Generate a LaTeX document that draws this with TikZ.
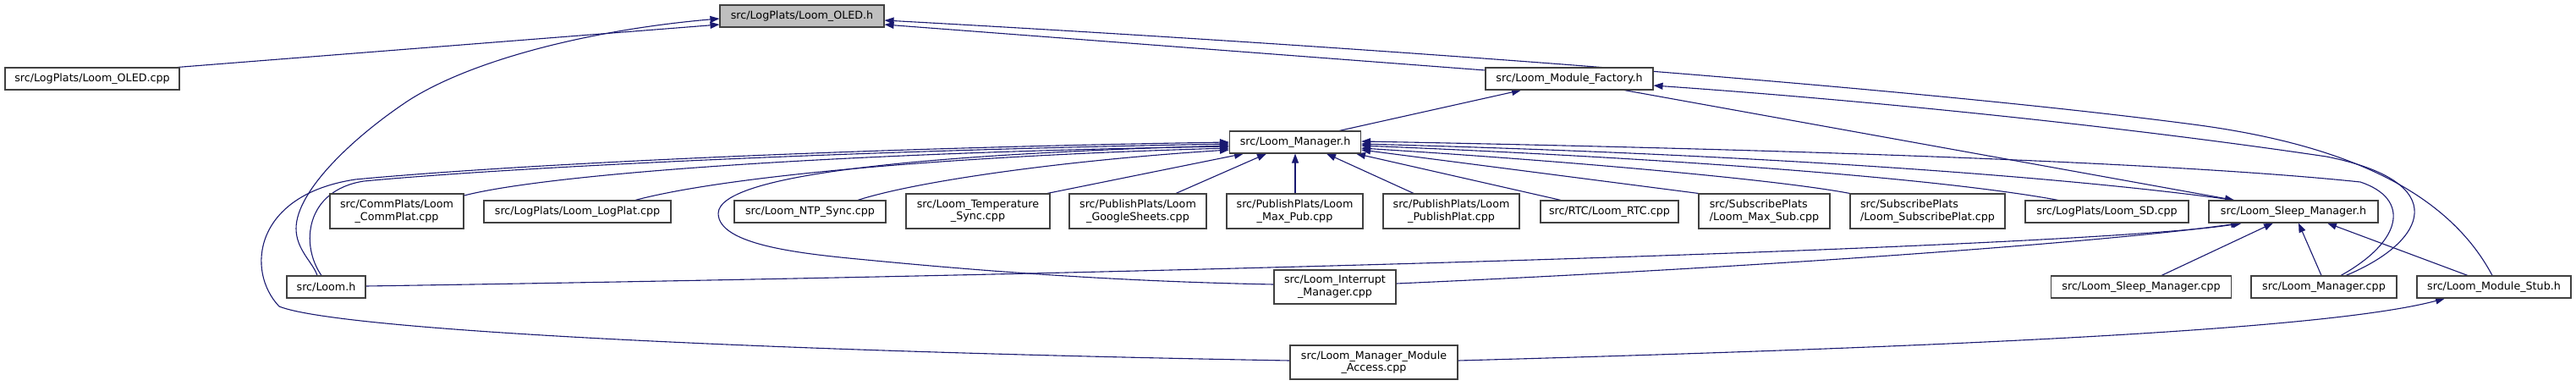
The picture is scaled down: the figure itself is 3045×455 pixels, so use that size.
\documentclass[tikz,border=0pt]{standalone}
\usepackage{fontspec}
\setmainfont{DejaVu Sans}
\usetikzlibrary{arrows.meta,backgrounds}
\definecolor{edgec}{HTML}{191970}
\definecolor{boxc}{HTML}{404040}
\definecolor{rootfill}{HTML}{BFBFBF}
\begin{document}
\begin{tikzpicture}[x=1pt,y=-1pt,
  box/.style={draw=boxc, line width=1.1pt, fill=white, rectangle, inner sep=0pt,
    font=\fontsize{12.7}{14.5}\selectfont, align=center, minimum height=26pt},
  tall/.style={minimum height=41pt},
  edge/.style={draw=edgec, line width=1.1pt},
  inc/.style={edge, {Triangle[length=11pt,width=8pt]}-}]
\useasboundingbox (0,0) rectangle (3045,455);
% nodes
\node[box, fill=rootfill, minimum width=194pt] (oledh) at (948,19) {src/LogPlats/Loom\_OLED.h};
\node[box, minimum width=206pt] (oledcpp) at (109,93) {src/LogPlats/Loom\_OLED.cpp};
\node[box, minimum width=198pt] (factory) at (1855,93) {src/Loom\_Module\_Factory.h};
\node[box, minimum width=155pt] (mgrh) at (1531,168) {src/Loom\_Manager.h};
\node[box, tall, minimum width=158pt] (commplat) at (469,249.5) {src/CommPlats/Loom\\\_CommPlat.cpp};
\node[box, minimum width=221pt] (logplat) at (682.5,250) {src/LogPlats/Loom\_LogPlat.cpp};
\node[box, minimum width=179pt] (ntp) at (957.5,250) {src/Loom\_NTP\_Sync.cpp};
\node[box, tall, minimum width=170pt] (temp) at (1156,249.5) {src/Loom\_Temperature\\\_Sync.cpp};
\node[box, tall, minimum width=162pt] (gsheets) at (1345,249.5) {src/PublishPlats/Loom\\\_GoogleSheets.cpp};
\node[box, tall, minimum width=161pt] (maxpub) at (1530.5,249.5) {src/PublishPlats/Loom\\\_Max\_Pub.cpp};
\node[box, tall, minimum width=161pt] (pubplat) at (1715.5,249.5) {src/PublishPlats/Loom\\\_PublishPlat.cpp};
\node[box, minimum width=163pt] (rtc) at (1902.5,250) {src/RTC/Loom\_RTC.cpp};
\node[box, tall, align=left, minimum width=155pt] (maxsub) at (2085.5,249.5) {src/SubscribePlats\\/Loom\_Max\_Sub.cpp};
\node[box, tall, align=left, minimum width=183pt] (subplat) at (2278.5,249.5) {src/SubscribePlats\\/Loom\_SubscribePlat.cpp};
\node[box, minimum width=193pt] (sd) at (2490.5,250) {src/LogPlats/Loom\_SD.cpp};
\node[box, minimum width=200pt] (sleeph) at (2711,250) {src/Loom\_Sleep\_Manager.h};
\node[box, minimum width=93pt] (loomh) at (385.5,339) {src/Loom.h};
\node[box, minimum width=144pt, minimum height=40pt] (interrupt) at (1578,339) {src/Loom\_Interrupt\\\_Manager.cpp};
\node[box, minimum width=198pt, minimum height=40pt] (access) at (1624,428) {src/Loom\_Manager\_Module\\\_Access.cpp};
\node[box, minimum width=213pt] (sleepcpp) at (2531,339) {src/Loom\_Sleep\_Manager.cpp};
\node[box, minimum width=172pt] (mgrcpp) at (2747,339) {src/Loom\_Manager.cpp};
\node[box, minimum width=182pt] (stub) at (2948,339) {src/Loom\_Module\_Stub.h};
% edges
\begin{scope}[on background layer]
\draw[inc] (oledh.west |- 0,29) -- (oledcpp.north -| 210,0);
\draw[inc] (oledh.east |- 0,29) -- (factory.west |- 0,83);
\draw[inc] (oledh.east |- 0,24) .. controls (1700,60) and (2300,108) .. (2600,148)
  .. controls (2760,170) and (2890,220) .. (stub.north -| 2946,0);
\draw[inc] (factory.south -| 1798,0) -- (mgrh.north -| 1583,0);
\draw[inc] (factory.east |- 0,101) .. controls (2200,118) and (2500,148) .. (2750,185)
  .. controls (2900,215) and (2870,285) .. (mgrcpp.north -| 2773,0);
\draw[inc] (sleeph.north -| 2641,0) -- (factory.south -| 1920,0);
\draw[inc] (oledh.west |- 0,22) .. controls (700,35) and (560,70) .. (484,118)
  .. controls (420,160) and (350,225) .. (350,270)
  .. controls (350,295) and (370,310) .. (loomh.north -| 375,0);
\draw[inc] (mgrh.west |- 0,168) .. controls (1000,175) and (600,195) .. (420,212)
  .. controls (300,230) and (290,320) .. (330,362)
  .. controls (400,390) and (900,415) .. (access.west |- 0,426);
\draw[inc] (mgrh.west |- 0,170) .. controls (1000,178) and (600,198) .. (430,214)
  .. controls (360,225) and (355,290) .. (loomh.north -| 380,0);
\draw[inc] (mgrh.west |- 0,173) .. controls (1000,180) and (650,205) .. (commplat.east |- 0,231);
\draw[inc] (mgrh.west |- 0,175) .. controls (1100,185) and (850,210) .. (logplat.north -| 751,0);
\draw[inc] (mgrh.west |- 0,177) .. controls (1250,190) and (1080,215) .. (ntp.north -| 1014,0);
\draw[inc] (mgrh.west |- 0,172) .. controls (1100,182) and (850,205) .. (849,252)
  .. controls (849,290) and (950,300) .. (1024,307)
  .. controls (1200,324) and (1350,333) .. (interrupt.west |- 0,336);
\draw[inc] (mgrh.south -| 1470,0) -- (temp.north -| 1238,0);
\draw[inc] (mgrh.south -| 1497,0) -- (gsheets.north -| 1390,0);
\draw[inc] (mgrh.south -| 1531,0) -- (maxpub.north -| 1531,0);
\draw[inc] (mgrh.south -| 1568,0) -- (pubplat.north -| 1671,0);
\draw[inc] (mgrh.south -| 1603,0) -- (rtc.north -| 1845,0);
\draw[inc] (mgrh.east |- 0,177) -- (maxsub.north west);
\draw[inc] (mgrh.east |- 0,175) .. controls (1850,190) and (2100,212) .. (subplat.north west);
\draw[inc] (mgrh.east |- 0,172) .. controls (2000,188) and (2300,212) .. (sd.north -| 2433,0);
\draw[inc] (mgrh.east |- 0,170) .. controls (2100,183) and (2450,210) .. (sleeph.north -| 2641,0);
\draw[inc] (mgrh.east |- 0,167) .. controls (2200,178) and (2600,195) .. (2790,215)
  .. controls (2850,235) and (2840,285) .. (mgrcpp.north -| 2767,0);
\draw[inc] (sleeph.south -| 2650,0) .. controls (2500,288) and (1600,320) .. (loomh.east |- 0,338);
\draw[inc] (sleeph.south -| 2648,0) .. controls (2500,285) and (2100,315) .. (interrupt.east |- 0,335);
\draw[inc] (sleeph.south -| 2687,0) -- (sleepcpp.north -| 2555,0);
\draw[inc] (sleeph.south -| 2717,0) -- (mgrcpp.north -| 2744,0);
\draw[inc] (sleeph.south -| 2751,0) -- (stub.north -| 2917,0);
\draw[inc] (stub.south -| 2890,0) .. controls (2750,390) and (2300,410) .. (access.east |- 0,426);
\end{scope}
\end{tikzpicture}
\end{document}
